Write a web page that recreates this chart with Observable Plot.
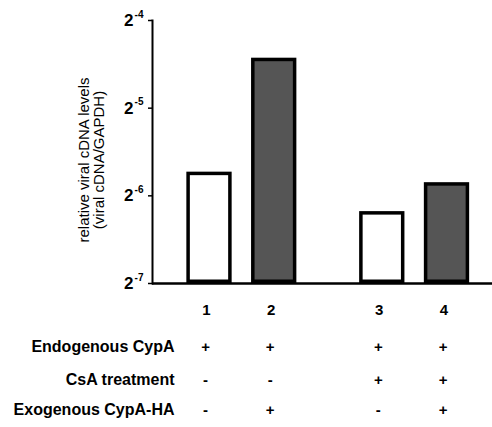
<!DOCTYPE html>
<html>
<head>
<meta charset="utf-8">
<script src="https://cdn.jsdelivr.net/npm/d3@7"></script>
<script src="https://cdn.jsdelivr.net/npm/@observablehq/plot@0.6"></script>
<style>
  html, body { margin: 0; padding: 0; background: #fff; }
  svg { font-family: "Liberation Sans", Arial, sans-serif; }
</style>
</head>
<body>
<div id="chart"></div>
<script>
// ---- data ----
const lanes = ["1", "2", "3", "4"];
const exponents = [-5.73, -4.43, -6.18, -5.85]; // log2(viral cDNA / GAPDH)
const fills = ["white", "#555555", "white", "#555555"];
const yTicks = [-7, -6, -5, -4];
const rowLabels = ["Endogenous CypA", "CsA treatment", "Exogenous CypA-HA"];
const endogenous = ["+", "+", "+", "+"];
const csa = ["-", "-", "+", "+"];
const exogenous = ["-", "+", "-", "+"];
const yLabel = "relative viral cDNA levels\n(viral cDNA/GAPDH)";

// ---- layout helpers ----
const groupGap = 0.67; // extra space between lanes 2 and 3
const pos = lanes.map((d, i) => i + (i >= 2 ? groupGap : 0));
const halfW = 0.35;
const bars = lanes.map((d, i) => ({
  lane: d, x1: pos[i] - halfW, x2: pos[i] + halfW,
  y: Math.pow(2, exponents[i]), fill: fills[i]
}));
const tickData = yTicks.map(e => ({y: Math.pow(2, e), e: String(e)}));
const rows = [endogenous, csa, exogenous];
const rowDy = [68, 101, 131];
const tableMarks = [];
rows.forEach((r, k) => {
  tableMarks.push(Plot.text(r.map((s, i) => ({x: pos[i], s})), {
    x: "x", text: "s", frameAnchor: "bottom", dy: rowDy[k], dx: -4,
    fontSize: 15, fontWeight: "bold", fill: "black"
  }));
  tableMarks.push(Plot.text([rowLabels[k]], {
    frameAnchor: "bottom-left", dx: 22, dy: rowDy[k], text: d => d, textAnchor: "end",
    fontSize: 16, fontWeight: "bold", fill: "black"
  }));
});

const chart = Plot.plot({
  width: 492,
  height: 427,
  marginLeft: 152,
  marginRight: 0,
  marginTop: 20,
  marginBottom: 144,
  style: {fontFamily: "'Liberation Sans', Arial, sans-serif", color: "black", background: "white"},
  x: {type: "linear", domain: [pos[0], pos[3]], range: [209, 446.5], axis: null},
  y: {type: "log", base: 2, domain: [Math.pow(2, -7), Math.pow(2, -4)], axis: null},
  marks: [
    Plot.rectY(bars, {x1: "x1", x2: "x2", y1: Math.pow(2, -7), y2: "y", fill: "fill", stroke: "black", strokeWidth: 3.5, inset: 1.75}),
    Plot.ruleY([Math.pow(2, -7)], {stroke: "black", strokeWidth: 2.5}),
    Plot.frame({anchor: "left", stroke: "black", strokeWidth: 2}),
    // short tick marks on the y axis
    Plot.axisY({ticks: tickData.map(d => d.y), tickFormat: () => "", tickSize: 4, stroke: "black", strokeWidth: 1.5, label: null}),
    // tick labels: base "2" and exponent
    Plot.text(tickData, {y: "y", frameAnchor: "left", text: () => "2", dx: -19, dy: 0, textAnchor: "end", fontSize: 17, fontWeight: "bold", fill: "black"}),
    Plot.text(tickData, {y: "y", frameAnchor: "left", text: "e", dx: -9, dy: -6, textAnchor: "end", fontSize: 10, fontWeight: "bold", fill: "black"}),
    Plot.text(lanes.map((d, i) => ({x: pos[i], d})), {
      x: "x", text: "d", frameAnchor: "bottom", dy: 31, dx: -3, fontSize: 15, fontWeight: "bold", fill: "black"
    }),
    Plot.text([yLabel], {
      frameAnchor: "left", text: d => d, rotate: -90, textAnchor: "middle", dx: -61, dy: 8, fontSize: 15,
      lineHeight: 1.0, fill: "black"
    }),
    ...tableMarks
  ]
});
document.getElementById("chart").append(chart);
</script>
</body>
</html>
